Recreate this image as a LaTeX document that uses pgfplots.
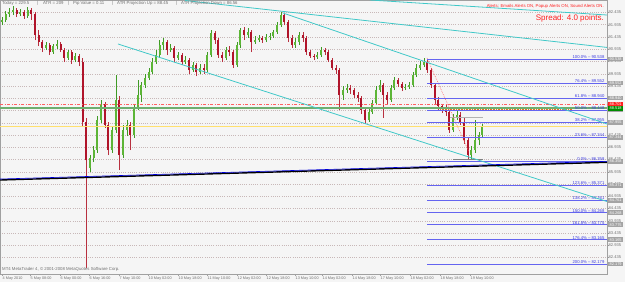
\documentclass[border=0pt]{standalone}
\usepackage{pgfplots}
\pgfplotsset{compat=1.18}
\usepackage{pgfplotstable}
\usepackage{fontspec}
\setmainfont{Liberation Sans}
\definecolor{bgcol}{HTML}{F5F5F5}
\definecolor{framegray}{HTML}{A0A0A0}
\definecolor{gridcol}{HTML}{C8B8B8}
\definecolor{upbody}{HTML}{5CB536}
\definecolor{upwick}{HTML}{3F9A25}
\definecolor{dnbody}{HTML}{B0142A}
\definecolor{dnwick}{HTML}{B8303F}
\definecolor{cyanline}{HTML}{40C8C8}
\definecolor{fibcol}{HTML}{6464F0}
\definecolor{fibtext}{HTML}{3C3CE0}
\definecolor{boxgray}{HTML}{A4A4A4}
\definecolor{redline}{HTML}{FF6060}
\definecolor{greenline}{HTML}{6EAE6E}
\definecolor{yellowline}{HTML}{FFE070}
\definecolor{orangeline}{HTML}{E07820}
\definecolor{txtgray}{HTML}{707070}
\definecolor{alertred}{HTML}{FF2020}

\pgfplotstableread{
x o h l c
2 92.046 92.250 91.924 92.128
5.7 92.128 92.495 92.046 92.373
9.3 92.373 92.618 92.250 92.454
13 92.454 92.699 92.332 92.536
20.4 92.373 92.577 92.291 92.454
27.7 92.291 92.658 92.210 92.536
46 90.986 91.230 90.904 91.108
53.4 90.822 91.149 90.741 91.067
57 91.067 91.312 90.945 91.149
68 90.578 90.904 90.496 90.822
75.4 90.496 90.782 90.414 90.659
90 86.090 86.620 85.926 86.498
93.7 86.498 86.987 86.334 86.824
97.4 86.824 88.211 86.702 88.048
101 88.048 88.864 87.926 88.701
112 86.824 87.803 86.702 87.640
115.8 87.640 89.884 87.518 88.864
123 86.620 87.844 86.498 87.640
126.8 87.640 88.048 87.395 87.844
134 87.436 88.701 87.314 88.538
137.8 88.538 89.680 88.456 89.068
141.4 89.068 89.598 88.782 89.476
145 89.476 89.925 89.354 89.762
148.8 89.762 90.170 89.680 90.006
152.4 90.006 90.578 89.925 90.414
156 90.414 90.904 90.333 90.700
159.7 90.700 91.312 90.578 91.108
163.4 91.108 91.394 90.904 91.230
170.7 90.904 91.149 90.822 90.986
178 90.578 90.822 90.496 90.700
185.4 90.414 90.659 90.333 90.496
192.8 90.088 90.414 90.006 90.292
200 90.006 90.333 89.925 90.170
207.4 90.088 90.822 90.006 90.700
211 90.700 91.720 90.618 91.598
225.8 90.578 91.026 90.496 90.904
236.8 90.292 91.230 90.210 91.108
240.4 91.108 91.802 90.986 91.720
247.8 91.516 91.802 91.394 91.638
255 91.230 91.475 91.149 91.312
258.8 91.312 91.516 91.230 91.394
266 91.312 91.557 91.230 91.434
269.8 91.434 91.598 91.312 91.475
273.4 91.475 91.720 91.394 91.638
277 91.638 92.046 91.557 91.924
280.8 91.924 92.454 91.842 92.332
295.4 91.108 91.394 90.986 91.230
299 91.230 91.638 91.108 91.516
317.4 90.618 90.822 90.537 90.700
321 90.700 91.026 90.618 90.904
343 89.068 89.435 88.864 89.272
346.8 89.272 89.517 89.150 89.354
368.8 88.048 88.497 87.966 88.374
372.4 88.374 88.864 88.293 88.742
376 88.742 89.435 88.660 89.272
379.8 89.272 89.680 89.190 89.476
390.8 88.864 89.476 88.782 89.354
394.4 89.354 89.802 89.272 89.680
405.4 89.354 89.517 89.272 89.394
409 89.394 89.598 89.313 89.476
412.8 89.476 90.006 89.394 89.884
416.4 89.884 90.333 89.802 90.170
420 90.170 90.455 90.088 90.292
423.8 90.292 90.578 90.210 90.414
453 87.640 88.293 87.558 88.130
456.8 88.130 88.456 88.048 88.252
471.4 86.620 86.987 86.416 86.824
475 86.824 88.048 86.702 87.232
478.8 87.232 87.558 87.028 87.436
482.4 87.436 87.885 87.314 87.762
}\upbars

\pgfplotstableread{
x o h l c
16.7 92.536 92.618 92.250 92.373
24 92.454 92.536 92.169 92.291
31.4 92.536 92.618 92.128 92.373
35 92.373 92.454 91.312 91.516
38.7 91.516 91.720 91.067 91.230
42.4 91.230 91.312 90.822 90.986
49.7 91.108 91.190 90.700 90.822
60.7 91.149 91.230 90.822 90.904
64.4 90.904 90.986 90.414 90.578
71.7 90.822 90.904 90.333 90.496
79 90.659 90.741 90.251 90.414
82.7 90.414 90.578 87.803 87.966
86.4 87.966 88.130 82.010 86.416
104.8 88.701 88.782 87.722 87.844
108.4 87.844 87.966 86.620 86.824
119.4 88.864 89.027 86.008 86.620
130.4 87.844 87.966 86.824 87.436
167 91.230 91.312 90.700 90.904
174.4 90.986 91.067 90.414 90.578
181.8 90.700 90.782 90.292 90.414
189 90.496 90.578 89.925 90.088
196.4 90.292 90.374 89.843 90.006
203.8 90.170 90.333 89.925 90.088
214.8 91.598 91.679 91.149 91.312
218.4 91.312 91.394 90.578 90.700
222 90.700 90.822 90.414 90.578
229.4 90.904 91.067 90.659 90.822
233 90.822 90.904 90.170 90.292
244 91.720 91.842 91.312 91.516
251.4 91.638 91.720 90.822 91.230
262.4 91.394 91.475 91.190 91.312
284.4 92.332 92.414 91.924 92.046
288 92.046 92.128 91.230 91.394
291.8 91.394 91.516 90.986 91.108
302.8 91.516 91.638 91.230 91.394
306.4 91.394 91.475 90.700 90.822
310 90.822 90.904 90.578 90.659
313.8 90.659 90.741 90.496 90.618
324.8 90.904 90.986 90.700 90.822
328.4 90.822 90.904 90.414 90.496
332 90.496 90.578 90.088 90.170
335.8 90.170 90.292 89.925 90.088
339.4 90.088 90.170 88.456 89.068
350.4 89.354 89.476 89.109 89.272
354 89.272 89.354 88.946 89.068
357.8 89.068 89.190 88.782 88.946
361.4 88.946 89.027 88.293 88.456
365 88.456 88.538 87.885 88.048
383.4 89.476 89.558 88.130 89.068
387 89.068 89.190 88.701 88.864
398 89.680 89.762 89.394 89.517
401.8 89.517 89.598 89.231 89.354
427.4 90.414 90.537 89.966 90.088
431 90.088 90.170 89.354 89.476
434.8 89.476 89.558 88.701 88.864
438.4 88.864 88.986 88.456 88.619
442 88.619 88.701 88.334 88.538
445.8 88.538 88.660 88.211 88.374
449.4 88.374 88.456 87.518 87.640
460.4 88.252 88.374 87.844 87.966
464 87.966 88.130 87.069 87.232
467.8 87.232 87.354 86.416 86.620
}\downbars

\tikzset{
  fiblabel/.style={anchor=south east, inner sep=0.4pt, text=fibtext, font=\fontsize{4.2pt}{4.2pt}\selectfont},
  pricebox/.style={anchor=west, fill=boxgray, text=white, inner sep=0.5pt, minimum width=15pt, minimum height=4.6pt, text depth=0pt, font=\fontsize{3.9pt}{3.9pt}\selectfont},
  smalltxt/.style={inner sep=0pt, text=txtgray, font=\fontsize{4.3pt}{4.3pt}\selectfont}
}
\pgfplotsset{candle/.style n args={2}{mark=none, draw=none, forget plot, error bars/.cd, y dir=plus, y explicit, error mark=none, error bar style={solid, line width=#1, draw=#2}}}
\newcommand\fib[2]{%
  \addplot[fibcol, line width=0.6pt] coordinates {(427,#2) (607,#2)};
  \node[fiblabel] at (axis cs:605,#2) {#1\% -- #2};
  \node[pricebox] at (axis cs:608,#2) {#2};
}

\begin{document}
\begin{tikzpicture}
\useasboundingbox (0pt,0pt) rectangle (625pt,282pt);
\fill[bgcol] (0pt,0pt) rectangle (625pt,282pt);
\begin{axis}[
  at={(0pt,8pt)}, anchor=south west,
  scale only axis, width=607pt, height=274pt,
  xmin=0, xmax=607, ymin=81.765, ymax=92.944,
  clip=false,
  axis line style={draw=framegray, line width=0.6pt},
  tick style={draw=framegray, line width=0.4pt},
  major tick length=2pt, tick align=outside,
  xtick pos=left, ytick pos=right,
  yticklabel pos=right,
  ymajorgrids,
  major grid style={draw=gridcol, line width=0.5pt, dash pattern=on 1pt off 1.2pt},
  ytick={82.435,82.935,83.435,83.935,84.435,84.935,85.435,85.935,86.435,86.935,87.435,87.935,88.435,88.935,89.435,89.935,90.435,90.935,91.435,91.935,92.435},
  yticklabels={82.435,82.935,83.435,83.935,84.435,84.935,85.435,85.935,86.435,86.935,87.435,87.935,88.435,88.935,89.435,89.935,90.435,90.935,91.435,91.935,92.435},
  yticklabel style={anchor=west, inner sep=0.5pt, xshift=-1pt, text=txtgray, font=\fontsize{4.1pt}{4.1pt}\selectfont},
  xtick={2,30,60,89,119,148,178,207,237,266,295,322,352,380,410,440,470},
  xticklabels={4 May 2010,5 May 08:00,6 May 00:00,6 May 16:00,7 May 10:00,10 May 02:00,10 May 18:00,11 May 10:00,12 May 02:00,12 May 18:00,13 May 10:00,14 May 02:00,14 May 18:00,17 May 10:00,18 May 02:00,18 May 18:00,19 May 10:00},
  xticklabel style={anchor=north west, inner sep=0.5pt, xshift=0pt, yshift=0pt, text=txtgray, font=\fontsize{3.8pt}{3.8pt}\selectfont},
  /pgf/number format/assume math mode=true,
]
% candles: wicks
\addplot[candle={0.6pt}{upwick}]
  table[x=x, y=l, y error expr=\thisrow{h}-\thisrow{l}] {\upbars};
\addplot[candle={0.6pt}{dnwick}]
  table[x=x, y=l, y error expr=\thisrow{h}-\thisrow{l}] {\downbars};
% candles: bodies
\addplot[candle={2.1pt}{upbody}]
  table[x=x, y=o, y error expr=\thisrow{c}-\thisrow{o}] {\upbars};
\addplot[candle={2.1pt}{dnbody}]
  table[x=x, y=c, y error expr=\thisrow{o}-\thisrow{c}] {\downbars};

% horizontal lines
\addplot[redline, line width=0.6pt, dash pattern=on 3pt off 1.5pt on 1pt off 1.5pt] coordinates {(0,88.701) (607,88.701)};
\addplot[greenline, line width=2pt] coordinates {(0,88.518) (607,88.518)};
\addplot[yellowline, line width=0.9pt] coordinates {(0,87.803) (607,87.803)};
\addplot[orangeline, line width=1.6pt, dash pattern=on 0.8pt off 0.8pt] coordinates {(440,88.456) (572,88.456)};
\addplot[gray!60, line width=0.5pt] coordinates {(450,88.170) (483,88.170)};
\addplot[gray, line width=0.6pt] coordinates {(453,86.457) (483,86.457)};
\addplot[redline, line width=0.5pt, dash pattern=on 0.8pt off 1pt] coordinates {(427,90.578) (469,86.742)};

% fibonacci levels
\fib{100.0}{90.538}
\fib{76.4}{89.552}
\fib{61.8}{88.940}
\fib{50.0}{88.448}
\fib{38.2}{87.955}
\fib{23.6}{87.344}
\fib{0.0}{86.358}
\fib{123.6}{85.371}
\fib{138.2}{84.761}
\fib{150.0}{84.268}
\fib{161.8}{83.775}
\fib{176.4}{83.165}
\fib{200.0}{82.179}

% trend lines
\addplot[cyanline, line width=0.8pt] coordinates {(370,92.944) (607,92.332)};
\addplot[cyanline, line width=0.8pt] coordinates {(185,92.924) (607,91.010)};
\addplot[cyanline, line width=0.8pt] coordinates {(283,92.414) (607,87.885)};
\addplot[cyanline, line width=0.8pt] coordinates {(118,91.149) (607,84.723)};
\addplot[black, line width=1.4pt] coordinates {(0,85.600) (607,86.322)};
\addplot[blue!85!black, line width=0.6pt] coordinates {(0,85.640) (607,86.362)};

% boxes on the price scale
\node[pricebox, fill=alertred] at (axis cs:608,88.701) {88.701};
\node[pricebox, fill=green!55!black] at (axis cs:608,88.518) {88.518};
\end{axis}

% header and notes
\node[smalltxt, anchor=west] at (2pt,279pt) {Today = 229.5};
\node[smalltxt, anchor=west] at (37pt,279pt) {|};
\node[smalltxt, anchor=west] at (43pt,279pt) {ATR = 209};
\node[smalltxt, anchor=west] at (68pt,279pt) {|};
\node[smalltxt, anchor=west] at (73pt,279pt) {Pip Value = 0.11};
\node[smalltxt, anchor=west] at (112pt,279pt) {|};
\node[smalltxt, anchor=west] at (117pt,279pt) {ATR Projection Up = 88.45};
\node[smalltxt, anchor=west] at (176pt,279pt) {|};
\node[smalltxt, anchor=west] at (181pt,279pt) {ATR Projection Down = 86.56};
\node[smalltxt, anchor=east, text=alertred] at (604pt,276pt) {Alerts: Emails Alerts ON, Popup Alerts ON, Sound Alerts ON.};
\node[inner sep=0pt, anchor=east, text=alertred, font=\fontsize{8pt}{8pt}\selectfont] at (604pt,264pt) {Spread: 4.0 points.};
\node[smalltxt, anchor=west] at (2pt,13pt) {MT4 MetaTrader 4, © 2001-2008 MetaQuotes Software Corp.};
\end{tikzpicture}
\end{document}
